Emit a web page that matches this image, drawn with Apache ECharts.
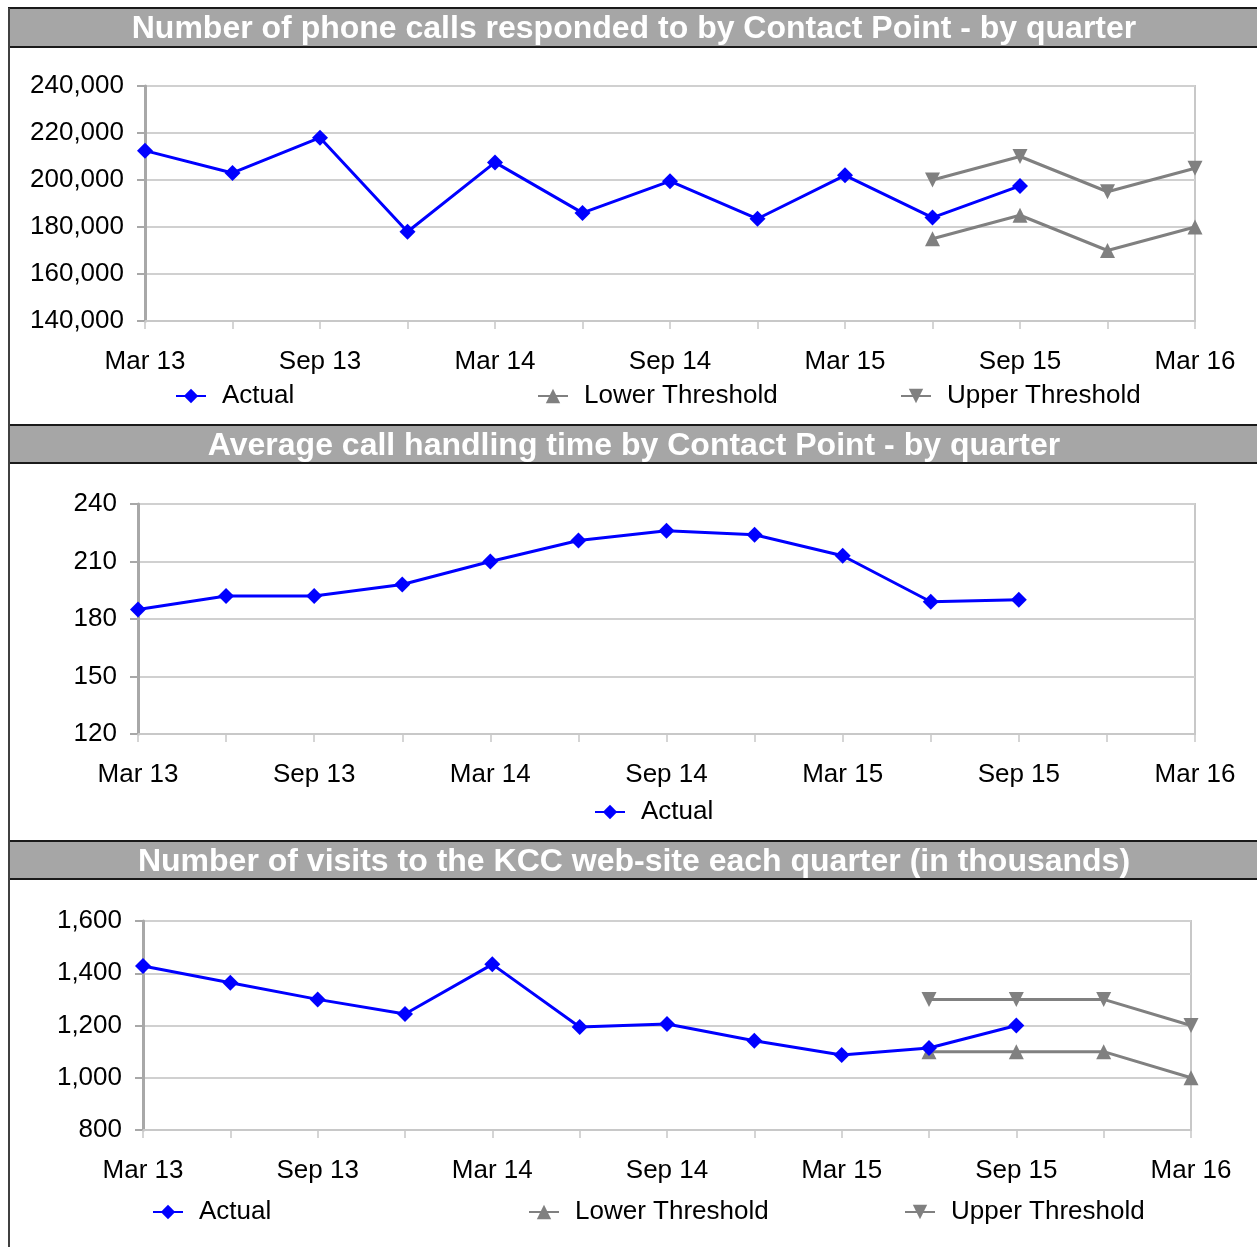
<!DOCTYPE html>
<html>
<head>
<meta charset="utf-8">
<script src="https://cdn.jsdelivr.net/npm/echarts@6/dist/echarts.min.js"></script>
<style>
html,body{margin:0;padding:0;background:#fff;}
#chart{width:1257px;height:1247px;}
</style>
</head>
<body>
<div id="chart"></div>
<script>
const categories = ['Mar 13','Jun 13','Sep 13','Dec 13','Mar 14','Jun 14','Sep 14','Dec 14','Mar 15','Jun 15','Sep 15','Dec 15','Mar 16'];

const callsActual = [212500, 203000, 218000, 178000, 207500, 186000, 199500, 183500, 202000, 184000, 197500, null, null];
const callsLower  = [null, null, null, null, null, null, null, null, null, 175000, 185000, 170000, 180000];
const callsUpper  = [null, null, null, null, null, null, null, null, null, 200000, 210000, 195000, 205000];

const handlingActual = [185, 192, 192, 198, 210, 221, 226, 224, 213, 189, 190, null, null];

const visitsActual = [1428, 1364, 1300, 1244, 1434, 1194, 1206, 1142, 1087, 1114, 1200, null, null];
const visitsLower  = [null, null, null, null, null, null, null, null, null, 1100, 1100, 1100, 1000];
const visitsUpper  = [null, null, null, null, null, null, null, null, null, 1300, 1300, 1300, 1200];

const titles = [
  'Number of phone calls responded to by Contact Point - by quarter',
  'Average call handling time by Contact Point - by quarter',
  'Number of visits to the KCC web-site each quarter (in thousands)'
];

const FONT = '"Liberation Sans", Arial, Helvetica, sans-serif';
const BLUE = '#0000ff';
const GREY = '#808080';

const grids = [
  {left: 145, top: 86, width: 1050, height: 235},
  {left: 138, top: 504, width: 1057, height: 230},
  {left: 143, top: 921, width: 1048, height: 209}
];
const yRanges = [
  {min: 140000, max: 240000, interval: 20000},
  {min: 120, max: 240, interval: 30},
  {min: 800, max: 1600, interval: 200}
];

function xAxisCfg(i) {
  return {
    type: 'category', gridIndex: i, data: categories, boundaryGap: false,
    axisLine: {show: true, lineStyle: {color: '#c8c8c8', width: 2}},
    axisTick: {show: true, interval: 0, length: 8, lineStyle: {color: '#c8c8c8', width: 1.5}},
    axisLabel: {interval: 1, margin: 28, color: '#000', fontSize: 26, fontFamily: FONT},
    splitLine: {show: false}
  };
}
function yAxisCfg(i) {
  return {
    type: 'value', gridIndex: i, min: yRanges[i].min, max: yRanges[i].max, interval: yRanges[i].interval,
    axisLine: {show: true, lineStyle: {color: '#a8a8a8', width: 3}},
    axisTick: {show: true, length: 8, lineStyle: {color: '#a8a8a8', width: 2}},
    axisLabel: {margin: 21, color: '#000', fontSize: 26, fontFamily: FONT, padding: [3, 0, 0, 0],
      formatter: v => v.toLocaleString('en-US')},
    splitLine: {show: true, lineStyle: {color: '#d0d0d0', width: 2}}
  };
}

function actualSeries(i, data) {
  return {name: 'Actual', type: 'line', xAxisIndex: i, yAxisIndex: i, data: data,
    symbol: 'diamond', symbolSize: 16, lineStyle: {color: BLUE, width: 3},
    itemStyle: {color: BLUE}, connectNulls: false, z: 5};
}
function lowerSeries(i, data) {
  return {name: 'Lower Threshold', type: 'line', xAxisIndex: i, yAxisIndex: i, data: data,
    symbol: 'triangle', symbolSize: 15, lineStyle: {color: GREY, width: 3},
    itemStyle: {color: GREY}, z: 4};
}
function upperSeries(i, data) {
  return {name: 'Upper Threshold', type: 'line', xAxisIndex: i, yAxisIndex: i, data: data,
    symbol: 'triangle', symbolRotate: 180, symbolSize: 15, lineStyle: {color: GREY, width: 3},
    itemStyle: {color: GREY}, z: 4};
}

function legendCfg(name, left, cy) {
  return {
    data: [name], left: left, top: cy - 14, padding: 0, itemWidth: 30, itemHeight: 18,
    selectedMode: false,
    textStyle: {fontSize: 26, fontFamily: FONT, color: '#000', lineHeight: 30, padding: [0, 0, 0, 11]}
  };
}

const barYs = [[8, 47], [425, 463], [841, 879]];
const graphics = [];
barYs.forEach((b, i) => {
  graphics.push({type: 'rect', shape: {x: 9, y: b[0], width: 1260, height: b[1] - b[0]},
    style: {fill: '#a6a6a6', stroke: '#1a1a1a', lineWidth: 2}, z: 10});
  graphics.push({type: 'text', x: 634, y: (b[0] + b[1]) / 2 + 2,
    style: {text: titles[i], fill: '#ffffff', font: 'bold 32px ' + FONT, textAlign: 'center', textVerticalAlign: 'middle'}, z: 11});
});
graphics.push({type: 'line', shape: {x1: 9, y1: 8, x2: 9, y2: 1247}, style: {stroke: '#404040', lineWidth: 2}, z: 12});

const option = {
  animation: false,
  backgroundColor: '#ffffff',
  grid: grids.map(g => Object.assign({show: true, borderColor: '#c8c8c8', borderWidth: 2, backgroundColor: 'transparent'}, g)),
  xAxis: [0, 1, 2].map(xAxisCfg),
  yAxis: [0, 1, 2].map(yAxisCfg),
  legend: [
    legendCfg('Actual', 175, 395),
    legendCfg('Lower Threshold', 537, 395),
    legendCfg('Upper Threshold', 900, 395),
    legendCfg('Actual', 594, 811),
    legendCfg('Actual', 152, 1211),
    legendCfg('Lower Threshold', 528, 1211),
    legendCfg('Upper Threshold', 904, 1211)
  ],
  series: [
    actualSeries(0, callsActual), lowerSeries(0, callsLower), upperSeries(0, callsUpper),
    actualSeries(1, handlingActual),
    actualSeries(2, visitsActual), lowerSeries(2, visitsLower), upperSeries(2, visitsUpper)
  ],
  graphic: graphics
};

const chart = echarts.init(document.getElementById('chart'), null, {renderer: 'canvas'});
chart.setOption(option);
</script>
</body>
</html>
